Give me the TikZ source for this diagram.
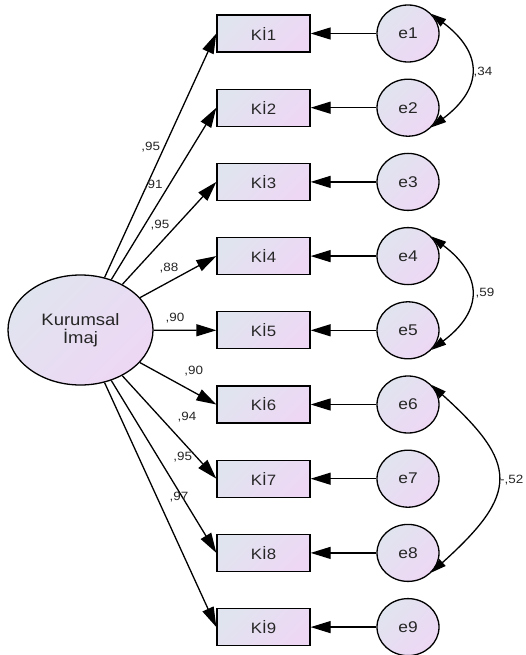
\documentclass[tikz,border=0pt]{standalone}
\usepackage{fontspec}
\setmainfont{Liberation Sans}[FakeStretch=1.12]
\usetikzlibrary{arrows.meta,shapes.geometric}
\definecolor{fillA}{HTML}{E0E4EF}
\definecolor{fillB}{HTML}{EED7F4}
\definecolor{ink}{HTML}{262626}
\begin{document}
\begin{tikzpicture}[x=1pt,y=-1pt,
  every node/.style={inner sep=0pt, text=ink},
  pastel/.style={shade, shading=axis, top color=fillA, bottom color=fillB, shading angle=45},
  item/.style={draw, line width=1.3pt, pastel, minimum width=93pt, minimum height=37pt,
    font=\fontsize{15}{15}\selectfont},
  errc/.style={draw, line width=1.3pt, pastel, ellipse, minimum width=62pt, minimum height=57pt,
    font=\fontsize{15.5}{15.5}\selectfont},
  latent/.style={draw, line width=1.3pt, pastel, ellipse, minimum width=145pt, minimum height=110pt,
    align=center, font=\fontsize{16.5}{18}\selectfont},
  path/.style={line width=1.3pt, -{Triangle[length=20pt,width=12pt]}},
  cov/.style={line width=1.3pt, {Triangle[length=15pt,width=9pt]}-{Triangle[length=15pt,width=9pt]}},
  lbl/.style={font=\fontsize{12}{12}\selectfont}]
\useasboundingbox (0,0) rectangle (525,655);

% latent factor
\node[latent] (L) at (80.5,330) {Kurumsal\\İmaj};

% indicators and their error terms
\foreach \i in {1,...,9}{
  \node[item] (k\i) at (263.5,{33.5+74.2*(\i-1)}) {Kİ\i};
  \node[errc] (e\i) at (408,{33.5+74.2*(\i-1)}) {e\i};
  \draw[path] (L) -- (k\i.west);
  \draw[path] (e\i) -- (k\i);
}

% loadings
\node[lbl] (l1) at (150.7,146.7) {,95};
\node[lbl] (l2) at (153.3,185) {,91};
\node[lbl] (l3) at (160,225) {,95};
\node[lbl] (l4) at (169,268) {,88};
\node[lbl] (l5) at (175,318) {,90};
\node[lbl] (l6) at (193.7,370.8) {,90};
\node[lbl] (l7) at (187,416.7) {,94};
\node[lbl] (l8) at (182.7,457) {,95};
\node[lbl] (l9) at (179,497) {,97};

% error covariances (y axis points down, so positive angles turn downwards)
\draw[cov] (e1.40) .. controls +(37:65) and +(-37:65) .. (e2.-40);
\draw[cov] (e4.40) .. controls +(37:65) and +(-37:65) .. (e5.-40);
\draw[cov] (e6.40) .. controls +(42:118) and +(-42:118) .. (e8.-40);
\node[lbl] (c12) at (483,72) {,34};
\node[lbl] (c45) at (485,293) {,59};
\node[lbl, anchor=west] (c68) at (500,480) {-,52};
\end{tikzpicture}
\end{document}
